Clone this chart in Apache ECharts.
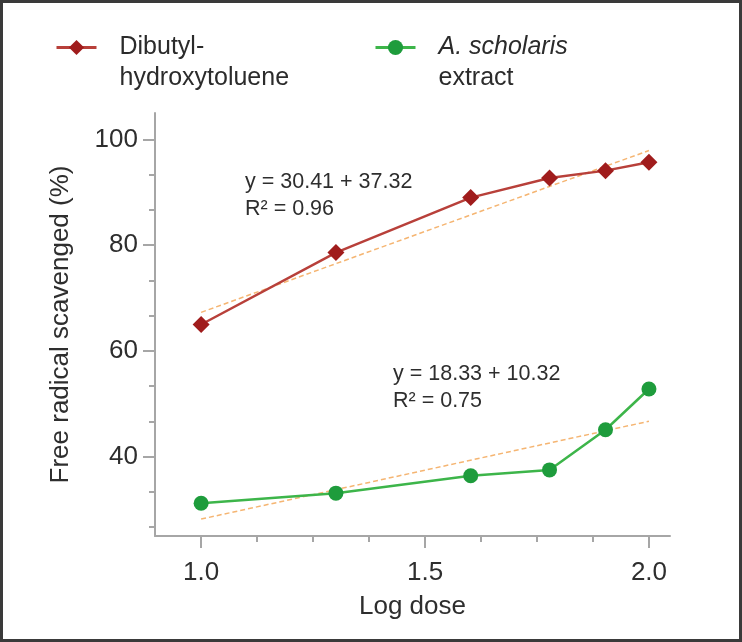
<!DOCTYPE html>
<html>
<head>
<meta charset="utf-8">
<script src="https://cdn.jsdelivr.net/npm/echarts@6/dist/echarts.min.js"></script>
<style>
  html, body { margin: 0; padding: 0; background: #fff; }
  #chart { width: 742px; height: 642px; }
</style>
</head>
<body>
<div id="chart"></div>
<script>
// log10 of dose (10, 20, 40, 60, 80, 100)
const logDose = [1.0, 1.301, 1.602, 1.778, 1.903, 2.0];
const bhtValues = [65.0, 78.6, 89.0, 92.7, 94.1, 95.7];
const extractValues = [31.2, 33.1, 36.4, 37.5, 45.1, 52.8];

// fitted lines, end points
const trendX = [1.0, 2.0];
const bhtTrend = [67.3, 97.9];
const extractTrend = [28.2, 46.7];

const xTicks = [1.0, 1.5, 2.0];
const xMinorTicks = [1.125, 1.25, 1.375, 1.625, 1.75, 1.875];
const yTicks = [40, 60, 80, 100];
const yMinorTicks = [26.67, 33.33, 46.67, 53.33, 66.67, 73.33, 86.67, 93.33];

const bhtName = "Dibutyl-hydroxytoluene";
const extractName = "A. scholaris extract";

const FONT = "'Liberation Sans', Arial, sans-serif";
const AXIS_COLOR = "#a6a6a6";
const TEXT_COLOR = "#2e2e2e";
const RED = "#b8403a";
const RED_DARK = "#a01c1c";
const GREEN = "#3db54a";
const GREEN_DARK = "#1e9c3c";
const TREND = "#f5b572";

const pairs = (xs, ys) => xs.map((x, i) => [x, ys[i]]);

const chart = echarts.init(document.getElementById("chart"));

// legend text: two lines, the icon sits on the first one
const legendRich = {
  a: { fontSize: 25, fontFamily: FONT, color: "#2b2b2b", lineHeight: 31 },
  i: { fontSize: 25, fontFamily: FONT, color: "#2b2b2b", lineHeight: 31, fontStyle: "italic" },
};
const legendBase = {
  top: 35,
  padding: 0,
  itemWidth: 40,
  itemHeight: 19,
  lineStyle: { width: 3 },
  selectedMode: false,
  textStyle: { padding: [31, 0, 0, 18], rich: legendRich },
};

const option = {
  animation: false,
  grid: { left: 155, right: 72, top: 113, bottom: 106 },
  legend: [
    Object.assign({}, legendBase, {
      data: [bhtName],
      left: 55,
      formatter: () => "{a|Dibutyl-}\n{a|hydroxytoluene}",
    }),
    Object.assign({}, legendBase, {
      data: [extractName],
      left: 374,
      formatter: () => "{i|A. scholaris}\n{a|extract}",
    }),
  ],
  xAxis: [
    {
      type: "value",
      min: 0.897,
      max: 2.047,
      name: "Log dose",
      nameLocation: "middle",
      nameGap: 58,
      nameTextStyle: { fontSize: 26, fontFamily: FONT, color: TEXT_COLOR },
      splitLine: { show: false },
      axisLine: { onZero: false, lineStyle: { color: AXIS_COLOR, width: 2 } },
      axisTick: { customValues: xTicks, length: 12, lineStyle: { color: AXIS_COLOR, width: 2 } },
      axisLabel: {
        customValues: xTicks,
        margin: 24,
        fontSize: 26,
        fontFamily: FONT,
        color: TEXT_COLOR,
        formatter: (v) => v.toFixed(1),
      },
    },
    {
      type: "value",
      min: 0.897,
      max: 2.047,
      position: "bottom",
      splitLine: { show: false },
      axisLine: { show: false },
      axisLabel: { show: false },
      axisTick: { customValues: xMinorTicks, length: 6, lineStyle: { color: AXIS_COLOR, width: 2 } },
    },
  ],
  yAxis: [
    {
      type: "value",
      min: 25,
      max: 105,
      name: "Free radical scavenged (%)",
      nameLocation: "middle",
      nameGap: 81,
      nameTextStyle: { fontSize: 26, fontFamily: FONT, color: TEXT_COLOR },
      splitLine: { show: false },
      axisLine: { onZero: false, lineStyle: { color: AXIS_COLOR, width: 2 } },
      axisTick: { customValues: yTicks, length: 12, lineStyle: { color: AXIS_COLOR, width: 2 } },
      axisLabel: { customValues: yTicks, margin: 17, fontSize: 26, fontFamily: FONT, color: TEXT_COLOR },
    },
    {
      type: "value",
      min: 25,
      max: 105,
      position: "left",
      splitLine: { show: false },
      axisLine: { show: false },
      axisLabel: { show: false },
      axisTick: { customValues: yMinorTicks, length: 6, lineStyle: { color: AXIS_COLOR, width: 2 } },
    },
  ],
  series: [
    {
      type: "line",
      name: "bht fit",
      data: pairs(trendX, bhtTrend),
      showSymbol: false,
      silent: true,
      lineStyle: { color: TREND, width: 1.5, type: [5, 3] },
    },
    {
      type: "line",
      name: "extract fit",
      data: pairs(trendX, extractTrend),
      showSymbol: false,
      silent: true,
      lineStyle: { color: TREND, width: 1.5, type: [5, 3] },
    },
    {
      type: "line",
      name: bhtName,
      data: pairs(logDose, bhtValues),
      symbol: "diamond",
      symbolSize: 17,
      color: RED_DARK,
      lineStyle: { color: RED, width: 2.5 },
      itemStyle: { color: RED_DARK },
    },
    {
      type: "line",
      name: extractName,
      data: pairs(logDose, extractValues),
      symbol: "circle",
      symbolSize: 15,
      color: GREEN_DARK,
      lineStyle: { color: GREEN, width: 2.5 },
      itemStyle: { color: GREEN_DARK },
    },
  ],
  graphic: [
    {
      type: "text",
      left: 245,
      top: 169,
      style: {
        text: "y = 30.41 + 37.32\nR\u00b2 = 0.96",
        fontSize: 21.5,
        lineHeight: 27,
        fontFamily: FONT,
        fill: TEXT_COLOR,
      },
    },
    {
      type: "text",
      left: 393,
      top: 361,
      style: {
        text: "y = 18.33 + 10.32\nR\u00b2 = 0.75",
        fontSize: 21.5,
        lineHeight: 27,
        fontFamily: FONT,
        fill: TEXT_COLOR,
      },
    },
    {
      type: "rect",
      silent: true,
      shape: { x: 1.5, y: 1.5, width: 739, height: 639 },
      style: { fill: "none", stroke: "#3a3a3a", lineWidth: 3 },
    },
  ],
};

chart.setOption(option);
</script>
</body>
</html>
